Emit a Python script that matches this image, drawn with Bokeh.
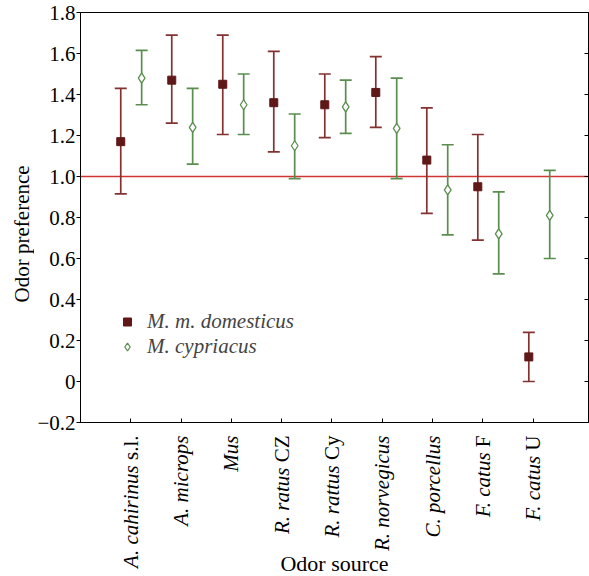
import math
from bokeh.plotting import figure
from bokeh.models import (Range1d, FixedTicker, LinearAxis, Span, Legend,
                          LegendItem)
from bokeh.core.properties import value
from bokeh.layouts import gridplot
from bokeh.embed import file_html
from bokeh.resources import INLINE

# ---------------- data ----------------
sources_italic = ["A. cahirinus", "A. microps", "Mus", "R. ratus", "R. rattus",
                  "R. norvegicus", "C. porcellus", "F. catus", "F. catus"]
sources_suffix = ["s.l.", "", "", "CZ", "Cy", "", "", "F", "U"]
source_pos = [1, 2, 3, 4, 5, 6, 7, 8, 9]

dom_mean = [1.17, 1.47, 1.45, 1.36, 1.35, 1.41, 1.08, 0.95, 0.12]
dom_hi = [1.43, 1.69, 1.69, 1.61, 1.50, 1.585, 1.335, 1.205, 0.24]
dom_lo = [0.915, 1.26, 1.205, 1.12, 1.19, 1.24, 0.82, 0.69, 0.0]

cyp_mean = [1.48, 1.24, 1.35, 1.15, 1.34, 1.235, 0.935, 0.72, 0.81]
cyp_hi = [1.615, 1.43, 1.50, 1.305, 1.47, 1.48, 1.155, 0.925, 1.03]
cyp_lo = [1.35, 1.06, 1.205, 0.99, 1.21, 0.99, 0.715, 0.525, 0.60]

ytick_values = [-0.2, 0, 0.2, 0.4, 0.6, 0.8, 1.0, 1.2, 1.4, 1.6, 1.8]
ytick_labels = ["\u22120.2", "0", "0.2", "0.4", "0.6", "0.8", "1.0", "1.2",
                "1.4", "1.6", "1.8"]

series_names = ["M. m. domesticus", "M. cypriacus"]
reference_level = 1.0
x_title = "Odor source"
y_title = "Odor preference"

# ---------------- style ----------------
FONT = "Liberation Serif"
FS = "21px"
FS_PX = 21
DOM_BAR = "#843131"
DOM_FILL = "#5f1717"
CYP_BAR = "#5a8e4e"
REF_RED = "#d03434"
TW = {" ": 250, "s": 389, ".": 250, "l": 278, "C": 667, "Z": 611, "y": 500,
      "F": 556, "U": 722}   # Times advance widths (per 1000 em)

LW = 34            # width of the left strip holding the y title
TOP, BOT = 12, 12  # main figure borders
MAIN_H = TOP + 410 + BOT
STRIP_H = 576 - MAIN_H
TOTAL_W = 589

p = figure(width=TOTAL_W - LW, height=MAIN_H, x_range=Range1d(0, 10.1),
           y_range=Range1d(-0.2, 1.8), output_backend="svg",
           toolbar_location=None, min_border_left=43, min_border_right=1,
           min_border_top=TOP, min_border_bottom=BOT)
p.extra_x_ranges = {"pts": Range1d(0.011, 9.97)}
p.grid.visible = False
p.outline_line_color = "black"
p.background_fill_color = "white"
p.border_fill_color = "white"

xa = p.xaxis[0]
xa.ticker = FixedTicker(ticks=source_pos)
xa.major_label_text_color = None
xa.major_label_text_font_size = "1px"
xa.major_label_standoff = 0
xa.major_tick_in = 4
xa.major_tick_out = 0
xa.minor_tick_line_color = None
xa.axis_line_color = "black"

ya = p.yaxis[0]
ya.ticker = FixedTicker(ticks=ytick_values)
ya.major_label_overrides = dict(zip(ytick_values, ytick_labels))
ya.major_label_text_font = FONT
ya.major_label_text_font_size = FS
ya.major_label_text_color = "black"
ya.major_tick_in = 0
ya.major_tick_out = 4
ya.major_label_standoff = 1
ya.minor_tick_line_color = None
ya.axis_line_color = "black"

ra = LinearAxis(ticker=FixedTicker(ticks=ytick_values), major_tick_in=4,
                major_tick_out=0, major_label_text_color=None,
                major_label_text_font_size="1px", major_label_standoff=0,
                minor_tick_line_color=None, axis_line_color="black")
p.add_layout(ra, "right")

p.add_layout(Span(location=reference_level, dimension="width",
                  line_color=REF_RED, line_width=1.6, level="underlay"))

dom_x = [i - 0.2 for i in source_pos]
cyp_x = [i + 0.21 for i in source_pos]

for xs, lo, hi, col in ((dom_x, dom_lo, dom_hi, DOM_BAR),
                        (cyp_x, cyp_lo, cyp_hi, CYP_BAR)):
    p.segment(x0=xs, y0=lo, x1=xs, y1=hi, line_color=col, line_width=1.7,
              x_range_name="pts")
    p.scatter(x=xs, y=hi, marker="dash", size=12, line_color=col,
              line_width=1.7, x_range_name="pts")
    p.scatter(x=xs, y=lo, marker="dash", size=12, line_color=col,
              line_width=1.7, x_range_name="pts")

dom_r = p.scatter(x=dom_x, y=dom_mean, marker="square", size=8,
                  fill_color=DOM_FILL, line_color=DOM_FILL,
                  x_range_name="pts")
cyp_r = p.scatter(x=cyp_x, y=cyp_mean, marker="diamond", size=10,
                  fill_color="white", line_color=CYP_BAR, line_width=1.3,
                  x_range_name="pts")

legend = Legend(items=[LegendItem(label=series_names[0], renderers=[dom_r]),
                       LegendItem(label=series_names[1], renderers=[cyp_r])],
                location=(37, 63), border_line_color=None,
                background_fill_alpha=0, label_text_font=FONT,
                label_text_font_style="italic", label_text_font_size=FS,
                glyph_width=20, glyph_height=25, label_height=25, spacing=0,
                padding=0, margin=0, label_standoff=10)
p.add_layout(legend)

# ---- left strip: y-axis title ----
left = figure(width=LW, height=MAIN_H, x_range=Range1d(0, LW),
              y_range=p.y_range, output_backend="svg", toolbar_location=None,
              x_axis_location=None, y_axis_location=None, min_border_left=0,
              min_border_right=0, min_border_top=TOP, min_border_bottom=BOT)
left.grid.visible = False
left.outline_line_color = None
left.text(x=[21], y=[0.72], text=[y_title], angle=math.pi / 2,
          text_align="center", text_baseline="middle",
          text_font=value(FONT), text_font_size=FS, text_color="black")

# ---- bottom strip: category labels and x title ----
strip = figure(width=TOTAL_W - LW, height=STRIP_H, x_range=p.x_range,
               y_range=Range1d(0, STRIP_H), output_backend="svg",
               toolbar_location=None, x_axis_location=None,
               y_axis_location=None, min_border_left=43, min_border_right=1,
               min_border_top=0, min_border_bottom=0)
strip.grid.visible = False
strip.outline_line_color = None

label_top = STRIP_H - 1
it_y, suf_x, suf_y, suf_t = [], [], [], []
for pos, suf in zip(source_pos, sources_suffix):
    w = sum(TW[c] for c in " " + suf) * FS_PX / 1000 if suf else 0
    it_y.append(label_top - w)
    if suf:
        suf_x.append(pos)
        suf_y.append(label_top)
        suf_t.append(suf)

strip.text(x=source_pos, y=it_y, text=sources_italic, angle=math.pi / 2,
           text_align="right", text_baseline="middle", text_font=value(FONT),
           text_font_style="italic", text_font_size=FS, text_color="black")
strip.text(x=suf_x, y=suf_y, text=suf_t, angle=math.pi / 2,
           text_align="right", text_baseline="middle", text_font=value(FONT),
           text_font_size=FS, text_color="black")
strip.text(x=[5.05], y=[13], text=[x_title], text_align="center",
           text_baseline="middle", text_font=value(FONT),
           text_font_size="22px", text_color="black")

grid = gridplot([[left, p], [None, strip]], toolbar_location=None)

open("out.html", "w").write(file_html(grid, INLINE))
